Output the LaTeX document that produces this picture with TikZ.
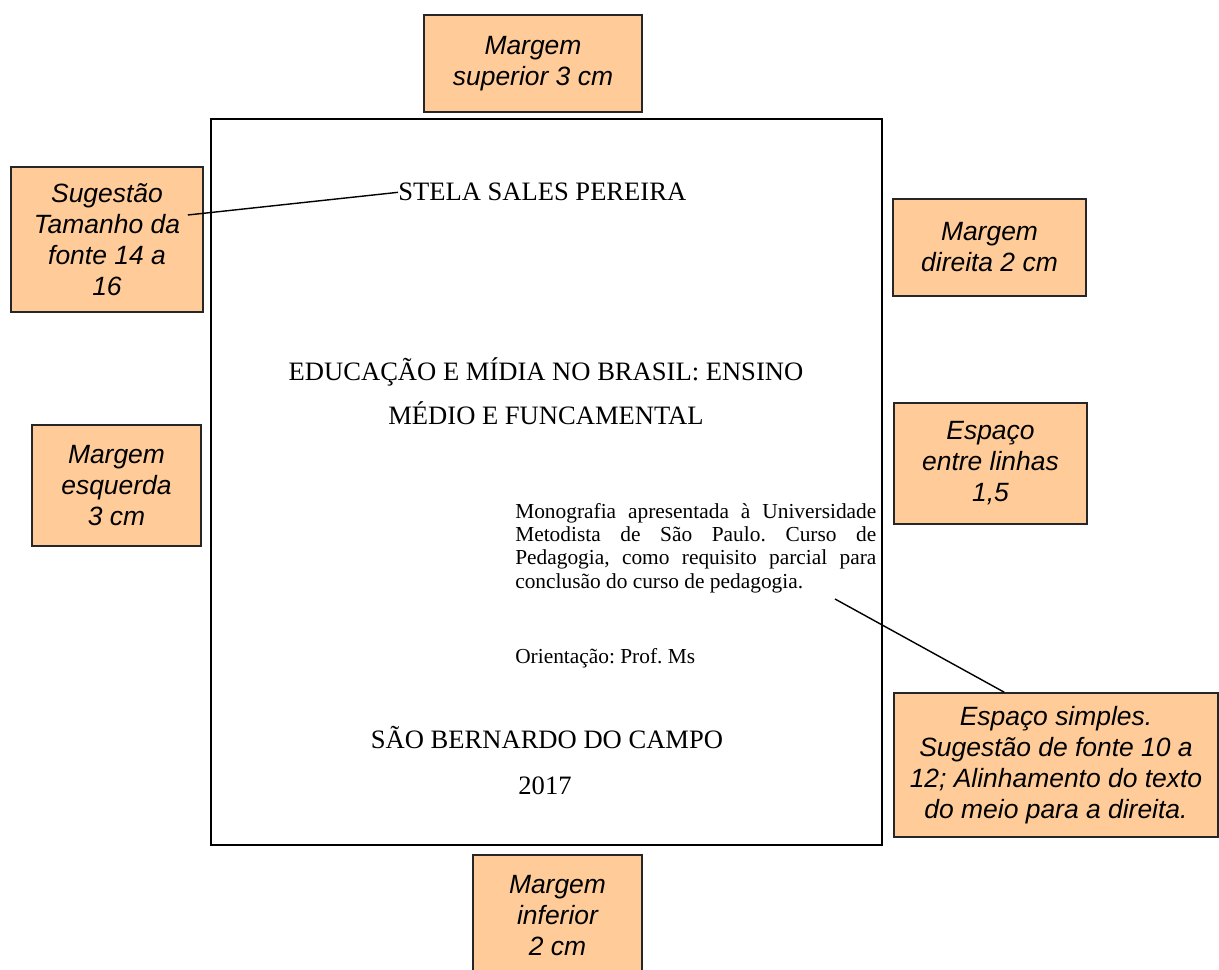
\documentclass[tikz,border=0pt]{standalone}
\usepackage{fontspec}
\setmainfont{Liberation Serif}
\newfontfamily\arialfont{Liberation Sans}
\usepackage{tikz}
\usetikzlibrary{calc}
\definecolor{laranja}{HTML}{FFCC99}
\hyphenpenalty=10000
\frenchspacing

\begin{document}
\begin{tikzpicture}
[x=0.025cm, y=-0.025cm,
 caixa/.style={draw=black!85, line width=1.1pt, fill=laranja, inner sep=0pt, align=center, font=\arialfont\itshape\fontsize{18.8}{22}\selectfont},
 capa/.style={inner sep=0pt, font=\fontsize{18.9}{31.3}\selectfont},
 corpo/.style={inner sep=0pt, font=\fontsize{15.2}{16.4}\selectfont},
 linha/.style={line width=1pt}]
    \useasboundingbox (0,0) rectangle (1219,970);
    \node[draw, line width=1.3pt, minimum width=16.775cm, minimum height=18.15cm] (folha) at (546.5,482) {};

    \node[capa, anchor=base west] (stela) at (398,201) {STELA SALES PEREIRA};
    \node[capa, anchor=base] (titulo) at (546,381) {EDUCAÇÃO E MÍDIA NO BRASIL: ENSINO};
    \node[capa, anchor=base] (subtitulo) at (546,425) {MÉDIO E FUNCAMENTAL};
    \node[corpo, anchor=north west, text width=9.025cm, align=justify] (resumo) at (515,503.5)
        {Monografia apresentada à Universidade\linebreak Metodista de São Paulo. Curso de\linebreak Pedagogia, como requisito parcial para\linebreak conclusão do curso de pedagogia.};
    \node[corpo, anchor=base west] (orient) at (515,664) {Orientação: Prof. Ms};
    \node[capa, anchor=base] (cidade) at (547,749) {SÃO BERNARDO DO CAMPO};
    \node[capa, anchor=base] (ano) at (545,794) {2017};

    \node[caixa, minimum width=5.45cm, minimum height=2.425cm] (sup) at (533,63.5) {Margem\\superior 3 cm};
    \node[caixa, minimum width=4.8cm, minimum height=3.625cm] (sug) at (107,239.5) {Sugestão\\Tamanho da\\fonte 14 a\\16};
    \node[caixa, minimum width=4.825cm, minimum height=2.425cm] (dir) at (989.5,247.5) {Margem\\direita 2 cm};
    \node[caixa, minimum width=4.225cm, minimum height=3.025cm] (esq) at (116.5,485.5) {Margem\\esquerda\\3 cm};
    \node[caixa, minimum width=4.825cm, minimum height=3.025cm] (entre) at (990.5,463.5) {Espaço\\entre linhas\\1,5};
    \node[caixa, minimum width=8.1cm, minimum height=3.6cm] (simp) at (1056,765) {Espaço simples.\\Sugestão de fonte 10 a\\12; Alinhamento do texto\\do meio para a direita.};
    \node[caixa, minimum width=4.225cm, minimum height=3.025cm] (inf) at (557.5,915.5) {Margem\\inferior\\2 cm};

    \coordinate (fim) at (835,599);
    \draw[linha] ($(sug.east)+(-16,-24.5)$) -- (stela.west);
    \draw[linha] (fim) -- ($(simp.north west)+(111,0)$);
\end{tikzpicture}
\end{document}
